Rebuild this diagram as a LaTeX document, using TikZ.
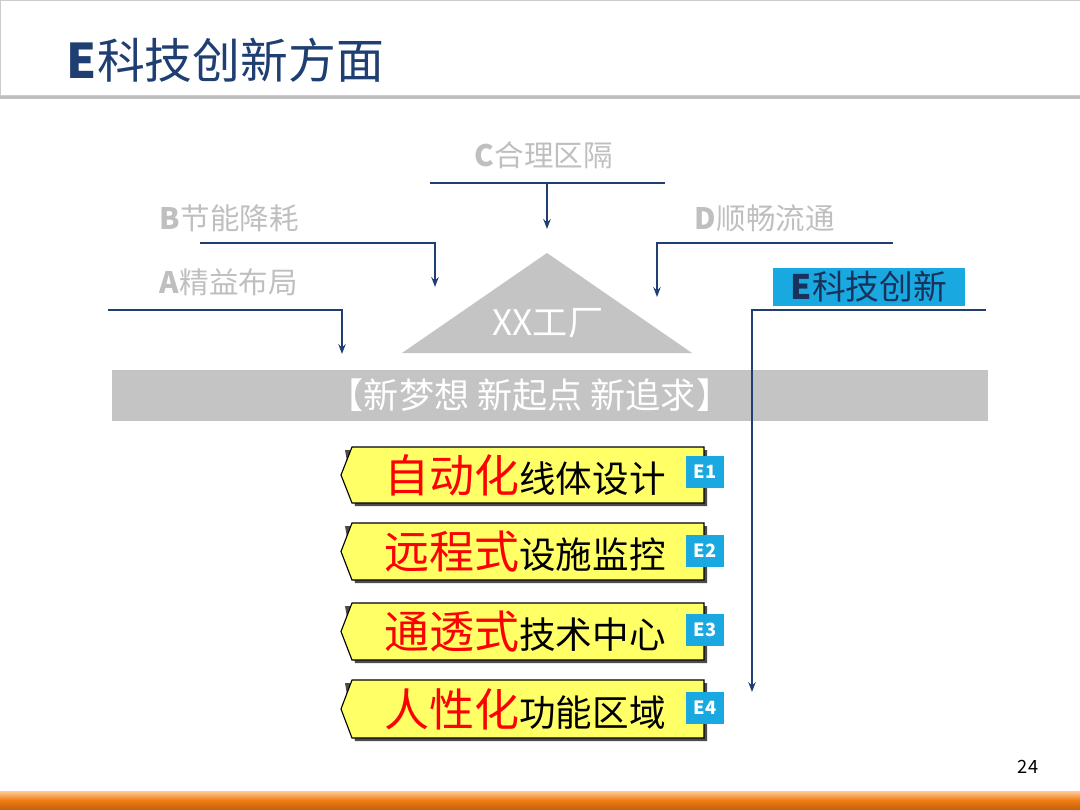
\documentclass[tikz,border=0pt]{standalone}
\usepackage{fontspec}
\setmainfont{Noto Sans CJK SC}
\usepackage{tikz}
\usetikzlibrary{arrows.meta, positioning}
\definecolor{navy}{HTML}{1F3F73}
\definecolor{lgray}{HTML}{BFBFBF}
\definecolor{bargray}{HTML}{C4C4C4}
\definecolor{cyanbox}{HTML}{1AA8E0}
\definecolor{banner}{HTML}{FFFF66}
\definecolor{orangebar}{HTML}{F07A10}
\tikzset{
    side/.style={font=\fontsize{21}{21}\selectfont, text=lgray, anchor=west},
    feed/.style={navy, line width=1.3pt, -{Stealth[length=7pt]}},
    tag/.style={fill=cyanbox, text=white, font=\fontsize{13}{13}\selectfont\bfseries\itshape, minimum width=0.95cm, minimum height=0.8cm, inner sep=0pt}
}
\newcommand{\plaque}[4]{% y-top, y-bottom, red text, black text
    \fill[black!70] (345,#1+3) -- (707,#1+3) -- (707,#2+3) -- (355,#2+3) -- cycle;
    \draw[fill=banner, line width=0.8pt] (352,#1) -- (704,#1) -- (704,#2) -- (352,#2) -- (341,{(#1+#2)/2}) -- cycle;
    \node[anchor=center] at (525,{(#1+#2)/2}) {\fontsize{32}{32}\selectfont\color{red}#3\fontsize{26}{26}\selectfont\color{black}#4};
}
\begin{document}
\begin{tikzpicture}[x=0.025cm, y=-0.025cm]
    \useasboundingbox (0,0) rectangle (1080,810);
    % header
    \fill[black!25] (0,93) rectangle (1080,99);
    \draw[black!20, fill=white] (0,0) rectangle (1080,95);
    \node[anchor=west, text=navy, font=\fontsize{34}{34}\selectfont] (title) at (62,60) {\textbf{E}科技创新方面};
    % inputs
    \node[side] (labC) at (470,155) {\textbf{C}合理区隔};
    \node[side] (labB) at (155,218) {\textbf{B}节能降耗};
    \node[side] (labD) at (690,218) {\textbf{D}顺畅流通};
    \node[side] (labA) at (155,282) {\textbf{A}精益布局};
    \draw[navy, line width=1.3pt] (430,183) -- (665,183);
    \coordinate (cTop) at (547,183); \coordinate (cEnd) at (547,229);
    \draw[feed] (cTop) -- (cEnd);
    \coordinate (bStart) at (200,243); \coordinate (bEnd) at (435,287);
    \draw[feed] (bStart) -| (bEnd);
    \coordinate (dStart) at (893,243); \coordinate (dEnd) at (657,297);
    \draw[feed] (dStart) -| (dEnd);
    \coordinate (aStart) at (108,310); \coordinate (aEnd) at (342,354);
    \draw[feed] (aStart) -| (aEnd);
    % factory
    \fill[bargray] (547,253) -- (692,353) -- (402,353) -- cycle;
    \node[text=white, font=\fontsize{25}{25}\selectfont] (plant) at (548,323) {XX工厂};
    \fill[bargray] (112,370) rectangle (988,421);
    \node[text=white, font=\fontsize{25}{25}\selectfont] (motto) at (530,395) {【新梦想 新起点 新追求】};
    % E branch
    \node[fill=cyanbox, text=navy!80!black, font=\fontsize{24}{24}\selectfont, minimum width=4.8cm, minimum height=0.95cm, inner sep=0pt] (eBox) at (869,287) {\textbf{E}科技创新};
    \coordinate (eStart) at (986,310); \coordinate (eEnd) at (752,692);
    \draw[feed] (eStart) -| (eEnd);
    % items
    \plaque{447}{503}{自动化}{线体设计}
    \plaque{523}{580}{远程式}{设施监控}
    \plaque{603}{660}{通透式}{技术中心}
    \plaque{680}{738}{人性化}{功能区域}
    \node[tag] (e1) at (705,472) {E1};
    \node[tag] (e2) at (705,551) {E2};
    \node[tag] (e3) at (705,630) {E3};
    \node[tag] (e4) at (705,708) {E4};
    % footer
    \node[font=\fontsize{13}{13}\selectfont] (page) at (1028,767) {24};
    \shade[top color=orange!40, bottom color=orangebar!80!black, middle color=orangebar] (0,791) rectangle (1080,810);
\end{tikzpicture}
\end{document}
